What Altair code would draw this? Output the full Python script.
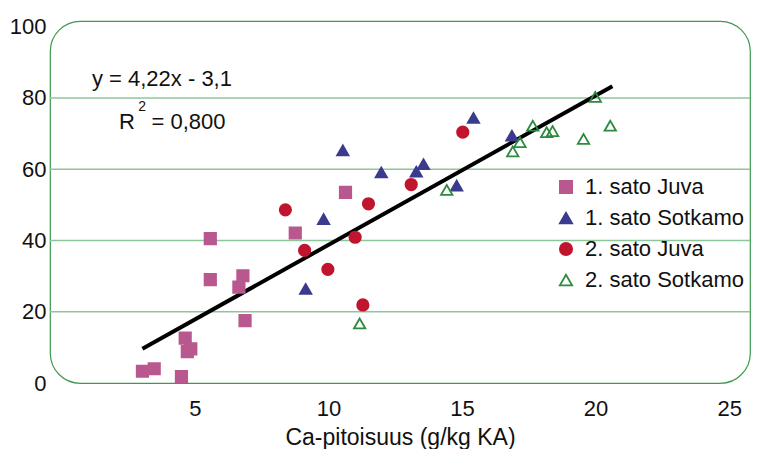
import altair as alt
import pandas as pd

# ---- data ----
juva1_x = [3.04, 3.48, 4.50, 4.64, 4.72, 4.85, 5.58, 5.58, 6.65, 6.80, 6.88, 8.76, 10.64]
juva1_y = [3.3, 4.0, 1.8, 12.6, 8.8, 9.6, 40.5, 29.0, 26.9, 30.1, 17.5, 42.1, 53.5]

sotk1_x = [9.15, 9.82, 10.54, 11.98, 13.29, 13.56, 14.80, 15.43, 16.87]
sotk1_y = [26.4, 46.0, 65.3, 59.1, 59.3, 61.4, 55.4, 74.4, 69.4]

juva2_x = [8.39, 9.11, 9.98, 11.0, 11.29, 11.50, 13.1, 15.03]
juva2_y = [48.6, 37.2, 31.9, 40.9, 21.9, 50.3, 55.7, 70.4]

sotk2_x = [11.17, 14.43, 16.9, 17.17, 17.65, 18.17, 18.39, 19.55, 19.99, 20.55]
sotk2_y = [16.7, 54.2, 65.0, 67.6, 72.2, 70.4, 70.7, 68.5, 80.3, 72.2]

series_names = ["1. sato Juva", "1. sato Sotkamo", "2. sato Juva", "2. sato Sotkamo"]
series_shapes = ["square", "triangle-up", "circle", "triangle-up"]
series_fill = ["#b8588f", "#3b3b8e", "#c0142f", "transparent"]
series_stroke = ["#b8588f", "#3b3b8e", "#c0142f", "#2d8a3e"]

trend_x = [3.04, 20.63]
trend_y = [9.6, 83.3]

grid_values = [20, 40, 60, 80]
x_ticks = [5, 10, 15, 20, 25]
y_ticks = [0, 20, 40, 60, 80, 100]

FONT = "Liberation Sans"
TXT = "#111111"

rows = []
for name, xs_, ys_ in zip(series_names,
                          [juva1_x, sotk1_x, juva2_x, sotk2_x],
                          [juva1_y, sotk1_y, juva2_y, sotk2_y]):
    for a, b in zip(xs_, ys_):
        rows.append({"x": a, "y": b, "serie": name})
df = pd.DataFrame(rows)

xs = alt.Scale(domain=[-0.42, 25.78], nice=False, zero=False)
ys = alt.Scale(domain=[0, 101.6], nice=False, zero=False)

x_axis = alt.Axis(values=x_ticks, grid=False, ticks=False, domain=False,
                  labelFontSize=22, labelFont=FONT, labelColor=TXT,
                  labelPadding=15, title="Ca-pitoisuus (g/kg KA)",
                  titleFontSize=23, titleFont=FONT, titleFontWeight="normal",
                  titleColor=TXT, titlePadding=7)
y_axis = alt.Axis(values=y_ticks, grid=False, ticks=False, domain=False,
                  labelFontSize=22, labelFont=FONT, labelColor=TXT,
                  labelPadding=4, title=None, minExtent=42, maxExtent=42)

legend_sel = alt.Legend(
    title=None, orient="none", legendX=505, legendY=155,
    labelFontSize=22, labelFont=FONT, labelColor=TXT, labelLimit=400,
    rowPadding=9, symbolSize=150, symbolStrokeWidth=1.8, labelOffset=8,
)

grid = alt.Chart(pd.DataFrame({"g": grid_values})).mark_rule(
    color="#8cc79a", strokeWidth=1.6
).encode(y=alt.Y("g:Q", scale=ys, axis=y_axis))

points = alt.Chart(df).mark_point(size=130, strokeWidth=1.8, opacity=1).encode(
    x=alt.X("x:Q", scale=xs, axis=x_axis),
    y=alt.Y("y:Q", scale=ys, axis=y_axis),
    shape=alt.Shape("serie:N", scale=alt.Scale(domain=series_names, range=series_shapes),
                    legend=legend_sel),
    fill=alt.Fill("serie:N", scale=alt.Scale(domain=series_names, range=series_fill),
                  legend=legend_sel),
    stroke=alt.Stroke("serie:N", scale=alt.Scale(domain=series_names, range=series_stroke),
                      legend=legend_sel),
)

trend = alt.Chart(pd.DataFrame({"x": trend_x, "y": trend_y})).mark_line(
    color="black", strokeWidth=4
).encode(x=alt.X("x:Q", scale=xs, axis=x_axis), y=alt.Y("y:Q", scale=ys, axis=y_axis))

ann = pd.DataFrame({
    "x": [1.15, 2.16, 3.38],
    "y": [85.2, 73.3, 73.3],
    "t": ["y = 4,22x - 3,1", "R", "= 0,800"],
})
ann_text = alt.Chart(ann).mark_text(
    align="left", baseline="middle", fontSize=22, font=FONT, color=TXT
).encode(x=alt.X("x:Q", scale=xs, axis=x_axis), y=alt.Y("y:Q", scale=ys, axis=y_axis),
         text="t:N")

sup = alt.Chart(pd.DataFrame({"x": [2.88], "y": [77.5], "t": ["2"]})).mark_text(
    align="left", baseline="middle", fontSize=14, font=FONT, color=TXT
).encode(x=alt.X("x:Q", scale=xs, axis=x_axis), y=alt.Y("y:Q", scale=ys, axis=y_axis),
         text="t:N")

chart = alt.layer(grid, trend, points, ann_text, sup).properties(
    width=743, height=441,
    autosize=alt.AutoSizeParams(type="fit", contains="padding"),
    padding={"left": 0, "top": 8, "right": 0, "bottom": 0},
    background="white",
).configure_view(
    stroke="#3d9a4d", strokeWidth=1.2, cornerRadius=30
)

chart.save("out.html", embed_options={"renderer": "svg", "actions": False})
